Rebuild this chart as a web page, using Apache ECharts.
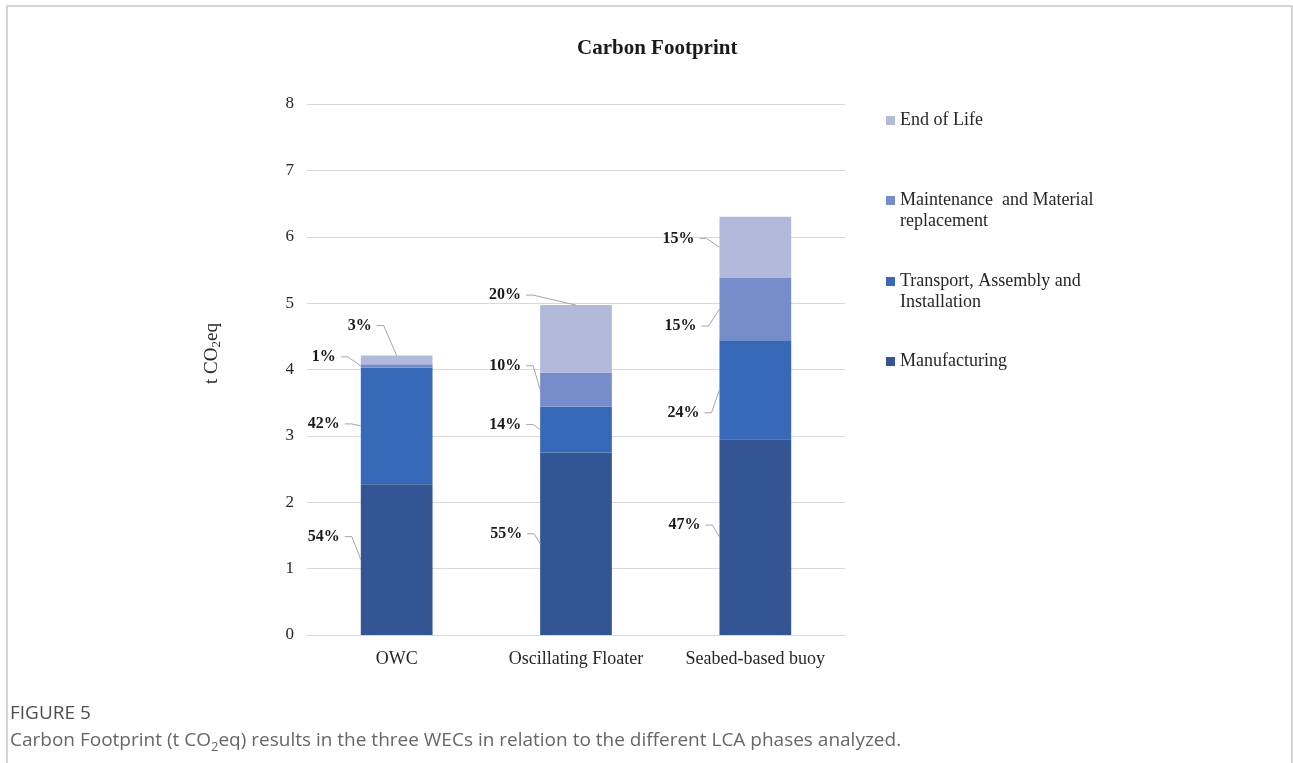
<!DOCTYPE html>
<html><head><meta charset="utf-8">
<script src="https://cdn.jsdelivr.net/npm/echarts@6/dist/echarts.min.js"></script>
<style>html,body{margin:0;padding:0;background:#fff}#c{width:1293px;height:763px}</style>
</head><body><div id="c"></div>
<script>
// ---- data ----
const categories = ['OWC', 'Oscillating Floater', 'Seabed-based buoy'];
const manufacturing = [2.27, 2.75, 2.95];
const transport = [1.76, 0.69, 1.49];
const maintenance = [0.05, 0.51, 0.94];
const endOfLife = [0.13, 1.02, 0.92];
const pctManufacturing = [54, 55, 47];
const pctTransport = [42, 14, 24];
const pctMaintenance = [1, 10, 15];
const pctEndOfLife = [3, 20, 15];
const seriesNames = ['Manufacturing', 'Transport, Assembly and Installation', 'Maintenance  and Material replacement', 'End of Life'];
const legendLabels = {
  'End of Life': 'End of Life',
  'Maintenance  and Material replacement': '\nMaintenance  and Material\nreplacement',
  'Transport, Assembly and Installation': '\nTransport, Assembly and\nInstallation',
  'Manufacturing': 'Manufacturing'
};
const yMin = 0, yMax = 8, yStep = 1;

// ---- layout / style ----
const colors = ['#335594', '#3869b8', '#778dcb', '#b2badc'];
const stacks = [manufacturing, transport, maintenance, endOfLife];
const pcts = [pctManufacturing, pctTransport, pctMaintenance, pctEndOfLife];
// label placement relative to leader-line target (pixels)
const labelPlacement = [
  [{t:'left',dx:-21,dy:-23},{t:'left',dx:-18,dy:-10},{t:'left',dx:-19,dy:-12}],
  [{t:'left',dx:-21,dy:-2},{t:'left',dx:-19,dy:-5},{t:'left',dx:-20,dy:23}],
  [{t:'left',dx:-25,dy:-9},{t:'left',dx:-19,dy:-24},{t:'left',dx:-23,dy:17}],
  [{t:'top',dx:-25,dy:-30},{t:'top',dx:-55,dy:-10},{t:'left',dx:-25,dy:-9}]
];
const serif = '"Liberation Serif", "Times New Roman", serif';
const sans = '"Open Sans", sans-serif';

const labelData = [];
for (let s = 0; s < stacks.length; s++) for (let c = 0; c < categories.length; c++) labelData.push([c, s]);

const barSeries = seriesNames.map((n, i) => ({
  name: n, type: 'bar', stack: 'total', data: stacks[i], barWidth: '40%',
  itemStyle: { color: colors[i] }, emphasis: { disabled: true }
}));

const labelSeries = {
  type: 'custom', coordinateSystem: 'cartesian2d', data: labelData, z: 10, silent: true,
  encode: { x: 0, y: 1 }, clip: false,
  renderItem: function (params, api) {
    const cat = api.value(0), seg = api.value(1);
    let base = 0;
    for (let k = 0; k < seg; k++) base += stacks[k][cat];
    const val = stacks[seg][cat];
    const mid = api.coord([cat, base + val / 2]);
    const top = api.coord([cat, base + val]);
    const bw = api.size([1, 0])[0] * 0.4;
    const left = mid[0] - bw / 2;
    const p = labelPlacement[seg][cat];
    let tx, ty;
    if (p.t === 'top') { tx = mid[0]; ty = top[1]; } else { tx = left; ty = mid[1]; }
    const lx = tx + p.dx, ly = ty + p.dy;
    return { type: 'group', children: [
      { type: 'polyline', shape: { points: [[lx + 5, ly], [lx + 12, ly], [tx, ty]] },
        style: { stroke: '#a6a6a6', lineWidth: 1, fill: null } },
      { type: 'text', style: { x: lx, y: ly, text: pcts[seg][cat] + '%', align: 'right', verticalAlign: 'middle',
        font: 'bold 16px ' + serif, fill: '#1a1a1a' } }
    ]};
  }
};

function mkLegend(name, topPx) {
  return {
    data: [name], left: 886, top: topPx, padding: 0, orient: 'vertical',
    itemWidth: 9, itemHeight: 9, icon: 'rect', selectedMode: false,
    formatter: n => legendLabels[n],
    textStyle: { fontFamily: serif, fontSize: 18, color: '#262626', lineHeight: 21 }
  };
}

const chart = echarts.init(document.getElementById('c'));
chart.setOption({
  animation: false,
  backgroundColor: '#fff',
  title: { text: 'Carbon Footprint', left: 577, top: 38, padding: 0,
    textStyle: { fontFamily: serif, fontWeight: 'bold', fontSize: 21, color: '#1a1a1a' } },
  grid: { left: 307, right: 448, top: 104, bottom: 128, containLabel: false },
  legend: [
    mkLegend('End of Life', 110),
    mkLegend('Maintenance  and Material replacement', 169),
    mkLegend('Transport, Assembly and Installation', 250),
    mkLegend('Manufacturing', 351)
  ],
  xAxis: {
    type: 'category', data: categories,
    axisLine: { lineStyle: { color: '#d9d9d9', width: 1 } },
    axisTick: { show: false },
    axisLabel: { fontFamily: serif, fontSize: 18, color: '#262626', margin: 15, interval: 0 }
  },
  yAxis: {
    type: 'value', min: yMin, max: yMax, interval: yStep,
    name: 't CO{s|2}eq', nameLocation: 'middle', nameGap: 84, nameRotate: 90,
    nameTextStyle: { fontFamily: serif, fontSize: 19, color: '#262626', lineHeight: 22, padding: [0, 0, 0, 32],
      rich: { s: { fontFamily: serif, fontSize: 13, lineHeight: 13, verticalAlign: 'bottom', color: '#262626' } } },
    axisLine: { show: false }, axisTick: { show: false },
    splitLine: { lineStyle: { color: '#d9d9d9', width: 1 } },
    axisLabel: { fontFamily: serif, fontSize: 17, color: '#262626', margin: 13 }
  },
  series: barSeries.concat([labelSeries]),
  graphic: [
    { type: 'rect', silent: true, shape: { x: 7, y: 6, width: 1285, height: 800 },
      style: { fill: 'none', stroke: '#c8c8c8', lineWidth: 1.5 } },
    { type: 'text', silent: true, left: 10, top: 704,
      style: { text: 'FIGURE 5', font: '19px ' + sans, fill: '#4d4d4d' } },
    { type: 'text', silent: true, left: 10, top: 728,
      style: { text: 'Carbon Footprint (t CO{s|2}eq) results in the three WECs in relation to the different LCA phases analyzed.',
        font: '19px ' + sans, fill: '#666666', lineHeight: 26,
        rich: { s: { font: '13px ' + sans, fill: '#666666', lineHeight: 13, verticalAlign: 'bottom' } } } }
  ]
});
</script></body></html>
